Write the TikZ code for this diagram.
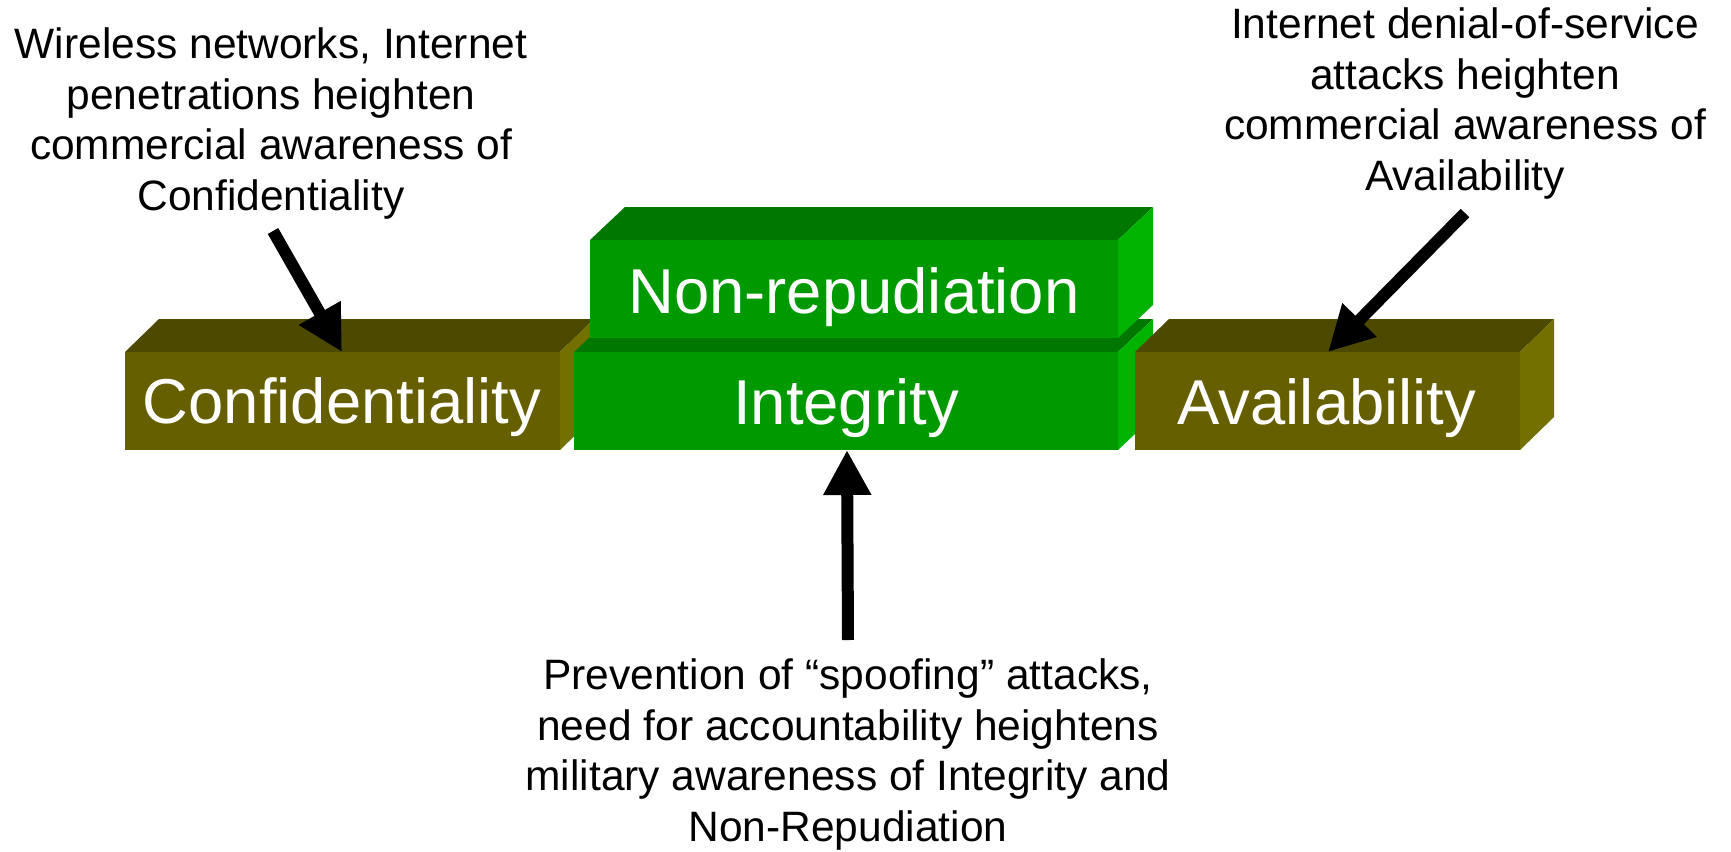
\documentclass[tikz,border=0pt]{standalone}
\usepackage{fontspec}
\setmainfont{Liberation Sans}
\usetikzlibrary{arrows.meta}

% face colours of the slabs
\definecolor{oliveFront}{HTML}{665F00}
\definecolor{oliveTop}{HTML}{4D4A00}
\definecolor{oliveSide}{HTML}{737000}
\definecolor{greenFront}{HTML}{009900}
\definecolor{greenTop}{HTML}{007700}
\definecolor{greenSide}{HTML}{00B300}

% a raised slab: #1 left, #2 top, #3 right, #4 bottom, #5 depth offset, #6 colour family
\newcommand{\drawslab}[6]{%
  \fill[#6Top]   (#1,#2) -- (#1+#5,#2-33) -- (#3+#5,#2-33) -- (#3,#2) -- cycle;
  \fill[#6Side]  (#3,#2) -- (#3+#5,#2-33) -- (#3+#5,#4-33) -- (#3,#4) -- cycle;
  \fill[#6Front] (#1,#2) rectangle (#3,#4);
}

\tikzset{
  boxlabel/.style={anchor=base, text=white, inner sep=0pt,
                   font=\fontsize{31.7}{38}\selectfont},
  note/.style={anchor=north, align=center, inner sep=0pt,
               font=\fontsize{21.25}{25.35}\selectfont},
  pointer/.style={line width=6pt, -{Triangle[length=22.5pt,width=22.5pt]}},
}

\begin{document}
\begin{tikzpicture}[x=0.5pt, y=-0.5pt]
  \useasboundingbox (0,0) rectangle (1731,852);

  % the four slabs, back to front
  \drawslab{125}{352}{560}{450}{34}{olive}
  \drawslab{574}{352}{1118}{450}{35}{green}
  \drawslab{590}{240}{1118}{338}{35}{green}
  \drawslab{1135}{352}{1520}{450}{34}{olive}

  \node[boxlabel] (conf)   at (342,423)  {Confidentiality};
  \node[boxlabel] (integ)  at (846,424)  {Integrity};
  \node[boxlabel] (nonrep) at (854,313)  {Non-repudiation};
  \node[boxlabel] (avail)  at (1327,424) {Availability};

  % explanatory notes
  \node[note] (noteC) at (271,22.5)
    {\strut Wireless networks, Internet\\ penetrations heighten\\ commercial awareness of\\ Confidentiality};
  \node[note] (noteA) at (1465,2.5)
    {\strut Internet denial-of-service\\ attacks heighten\\ commercial awareness of\\ Availability};
  \node[note] (noteI) at (848,653.5)
    {\strut Prevention of “spoofing” attacks,\\ need for accountability heightens\\ military awareness of Integrity and\\ Non-Repudiation};

  % pointers from the notes to the slabs
  \coordinate (tailC) at (273,231);
  \coordinate (tipC)  at (342,352);
  \coordinate (tailA) at (1465,213);
  \coordinate (tipA)  at (1328,352);
  \coordinate (tailI) at (848,640);
  \coordinate (tipI)  at (847,450);
  \draw[pointer] (tailC) -- (tipC);
  \draw[pointer] (tailA) -- (tipA);
  \draw[pointer] (tailI) -- (tipI);
\end{tikzpicture}
\end{document}
